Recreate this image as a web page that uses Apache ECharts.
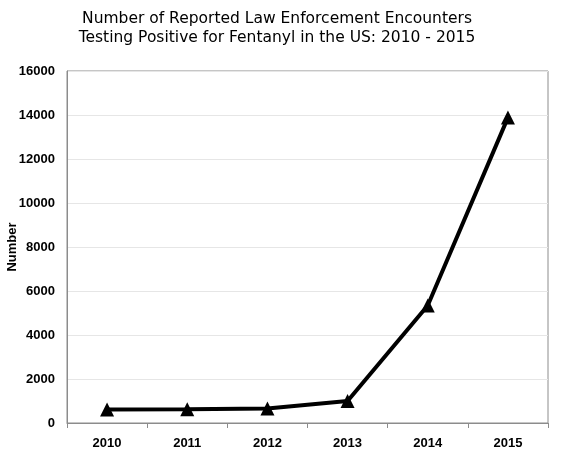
<!DOCTYPE html>
<html>
<head>
<meta charset="utf-8">
<script src="https://cdn.jsdelivr.net/npm/echarts@6/dist/echarts.min.js"></script>
<style>
  html, body { margin: 0; padding: 0; background: #fff; }
  #chart { width: 562px; height: 456px; }
</style>
</head>
<body>
<div id="chart"></div>
<script>
const years = ['2010', '2011', '2012', '2013', '2014', '2015'];
const encounters = [618, 630, 661, 1000, 5343, 13882];
const yTicks = { min: 0, max: 16000, step: 2000 };

const chart = echarts.init(document.getElementById('chart'));

const boldLabel = {
  fontFamily: 'Liberation Sans',
  fontWeight: 'bold',
  fontSize: 13,
  color: '#000',
};

chart.setOption({
  animation: false,
  title: {
    text: 'Number of Reported Law Enforcement Encounters\nTesting Positive for Fentanyl in the US: 2010 - 2015',
    left: 272,
    top: 4,
    textAlign: 'center',
    textStyle: {
      fontFamily: 'DejaVu Sans',
      fontSize: 15.5,
      fontWeight: 'normal',
      color: '#000',
      lineHeight: 19,
    },
  },
  grid: {
    left: 67,
    right: 14,
    top: 71,
    bottom: 33,
    containLabel: false,
    outerBoundsMode: 'none',
    show: true,
    borderColor: '#8c8c8c',
    borderWidth: 1,
  },
  xAxis: {
    type: 'category',
    data: years,
    boundaryGap: true,
    axisLine: { lineStyle: { color: '#8c8c8c', width: 1 } },
    axisTick: { show: true, length: 5, lineStyle: { color: '#8c8c8c' } },
    axisLabel: { ...boldLabel, margin: 14 },
  },
  yAxis: {
    type: 'value',
    min: yTicks.min,
    max: yTicks.max,
    interval: yTicks.step,
    name: 'Number',
    nameLocation: 'middle',
    nameGap: 48,
    nameMoveOverlap: false,
    nameTextStyle: { ...boldLabel },
    axisLine: { show: true, lineStyle: { color: '#8c8c8c', width: 1 } },
    axisTick: { show: false },
    axisLabel: { ...boldLabel, margin: 12, formatter: (v) => String(v) },
    splitLine: { lineStyle: { color: '#e6e6e6', width: 1 } },
  },
  series: [{
    type: 'line',
    data: encounters,
    symbol: 'triangle',
    symbolSize: 14,
    itemStyle: { color: '#000' },
    lineStyle: { color: '#000', width: 4 },
  }],
});
</script>
</body>
</html>
